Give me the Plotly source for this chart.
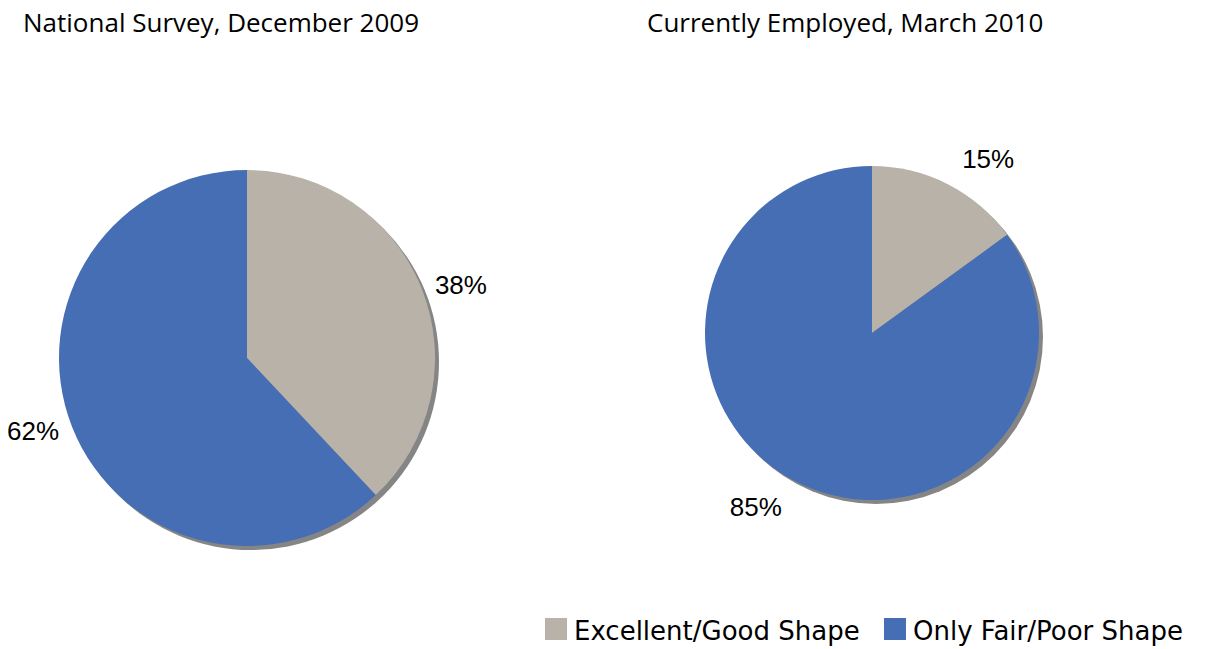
import plotly.graph_objects as go

# Data
labels = ["Excellent/Good Shape", "Only Fair/Poor Shape"]
colors = ["#b8b2a9", "#466eb4"]
titles = ["National Survey, December 2009", "Currently Employed, March 2010"]
survey_2009 = [38, 62]
employed_2010 = [15, 85]

W, H = 1214, 649


def px(x):
    return x / W


def py(y):
    return 1 - y / H


def box(cx, cy, r, dx=0, dy=0):
    # pixel centre/radius -> paper domain
    return dict(x=[px(cx - r + dx), px(cx + r + dx)],
                y=[py(cy + r + dy), py(cy - r + dy)])


# (values, centre x, centre y, radius, extra label distance)
pies = [
    (survey_2009, 247, 358, 188, 6),
    (employed_2010, 872, 333, 167, 15),
]

fig = go.Figure()

for vals, cx, cy, r, gap in pies:
    # drop shadow
    fig.add_trace(go.Pie(
        values=[1],
        domain=box(cx, cy, r, 4, 4),
        marker=dict(colors=["#858585"], line=dict(width=0)),
        textinfo="none",
        hoverinfo="skip",
        showlegend=False,
        sort=False,
    ))
    fig.add_trace(go.Pie(
        labels=labels,
        values=vals,
        domain=box(cx, cy, r),
        marker=dict(colors=colors, line=dict(width=0)),
        textinfo="none",
        sort=False,
        direction="clockwise",
        rotation=0,
        showlegend=False,
    ))
    # transparent, slightly larger pie that only carries the outside labels
    fig.add_trace(go.Pie(
        labels=labels,
        values=vals,
        domain=box(cx, cy, r + gap),
        marker=dict(colors=["rgba(0,0,0,0)"] * 2, line=dict(width=0)),
        text=[f"{v}%" for v in vals],
        textinfo="text",
        textposition="outside",
        outsidetextfont=dict(family="Liberation Sans, Arial", size=26, color="black"),
        hoverinfo="skip",
        sort=False,
        direction="clockwise",
        rotation=0,
        showlegend=False,
    ))

# titles
for t, x in zip(titles, [21, 645]):
    fig.add_annotation(text=t, x=px(x), y=py(22), xref="paper", yref="paper",
                       xanchor="left", yanchor="middle", showarrow=False,
                       font=dict(family="Open Sans", size=26, color="black"))

# legend drawn by hand (bigger swatches than plotly's)
legend_x = [545, 884]
for i, lab in enumerate(labels):
    x = legend_x[i]
    fig.add_shape(type="rect", xref="paper", yref="paper",
                  x0=px(x), x1=px(x + 22), y0=py(640), y1=py(618),
                  fillcolor=colors[i], line=dict(width=0))
    fig.add_annotation(text=lab, x=px(x + 27), y=py(631), xref="paper", yref="paper",
                       xanchor="left", yanchor="middle", showarrow=False,
                       font=dict(family="DejaVu Sans", size=26, color="black"))

fig.update_layout(
    width=W, height=H,
    margin=dict(l=0, r=0, t=0, b=0),
    paper_bgcolor="white",
    plot_bgcolor="white",
)

# drop the default 8px page margin so the figure fills the window
fig.write_html("out.html", config={"displayModeBar": False},
               post_script="document.body.style.margin='0';")
